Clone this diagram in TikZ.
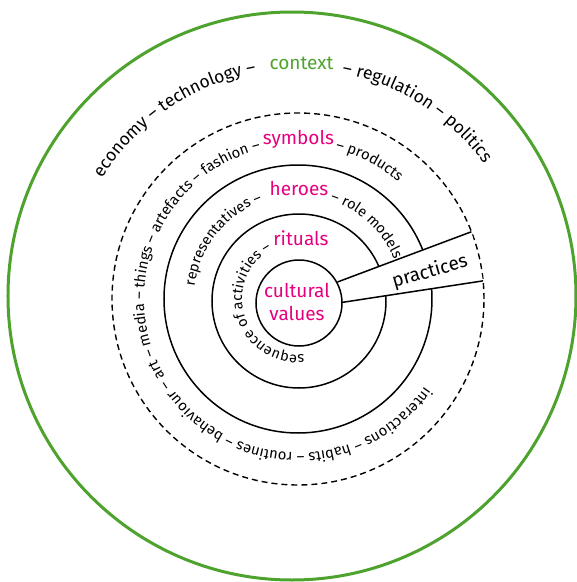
\documentclass[tikz,border=0pt]{standalone}
\usepackage{fontspec}
\setmainfont{Fira Sans}
\usetikzlibrary{decorations.text}
\definecolor{ctxgreen}{RGB}{78,162,46}
\definecolor{lblpink}{RGB}{230,0,126}
\newcommand\outerfont{\fontsize{17.5}{21}\selectfont}
\newcommand\ringfont{\fontsize{14.8}{18}\selectfont}
\newcommand\innerfont{\fontsize{14.5}{17}\selectfont}
\newcommand\keyfont{\fontsize{19}{23.5}\selectfont}
% text bent round the centre: radius, start, end, align, text
\newcommand\arclabel[5]{%
  \path[decorate,decoration={text along path,text align=#4,text={#5}}]
    (#2:#1) arc[start angle=#2,end angle=#3,radius=#1];}
\begin{document}
\begin{tikzpicture}[x=1pt,y=1pt,
    ring/.style={draw=black,line width=1.5pt},
    layer/.style={draw=black,line width=1.4pt,dash pattern=on 6pt off 4pt},
    key/.style={font=\keyfont,text=lblpink,anchor=base}]
    \useasboundingbox (-298,-283) rectangle (279,299);

    % Context
    \draw[ctxgreen,line width=3pt] (-6,3) circle (284);
    \arclabel{230}{165}{100.5}{right}{|\outerfont|economy – technology –}
    \node[key,text=ctxgreen] (ctx) at (3.5,230) {context};
    \arclabel{230}{79}{15}{left}{|\outerfont|– regulation – politics}

    % Symbols
    \draw[layer] (0,0) circle (186);
    \arclabel{154}{350}{104}{right}{|\ringfont|interactions – habits – routines – behaviour – art – media – things – artefacts – fashion –}
    \node[key] (symb) at (0.5,155) {symbols};
    \arclabel{154}{76}{25}{left}{|\ringfont|– products}

    % Heroes and rituals
    \draw[ring] (0,0) circle (134);
    \draw[ring] (1,-2) circle (87);
    \arclabel{104}{190}{110}{right}{|\innerfont|representatives –}
    \node[key] (hero) at (1,104) {heroes};
    \arclabel{104}{72}{5}{left}{|\innerfont|– role models}
    \arclabel{56}{290}{118}{right}{|\innerfont|sequence of activities –}
    \node[key] (ritu) at (3,54) {rituals};

    % Practices cut
    \coordinate (wedgeA) at (23.3:43);
    \coordinate (wedgeB) at (21.2:186);
    \coordinate (wedgeC) at (5.6:186);
    \coordinate (wedgeD) at (-4.8:43);
    \fill[white] (wedgeA) -- (wedgeB) -- (wedgeC) -- (wedgeD) -- cycle;
    \draw[line width=1.5pt] (wedgeA) -- (wedgeB);
    \draw[line width=1.5pt] (wedgeD) -- (wedgeC);
    \node[rotate=16,font=\keyfont] (prac) at (132,27) {practices};

    % Values
    \draw[ring,fill=white] (1,-4) circle (43);
    \node[align=center,font=\keyfont,text=lblpink] (core) at (-1,-3) {cultural\\values};
\end{tikzpicture}
\end{document}
